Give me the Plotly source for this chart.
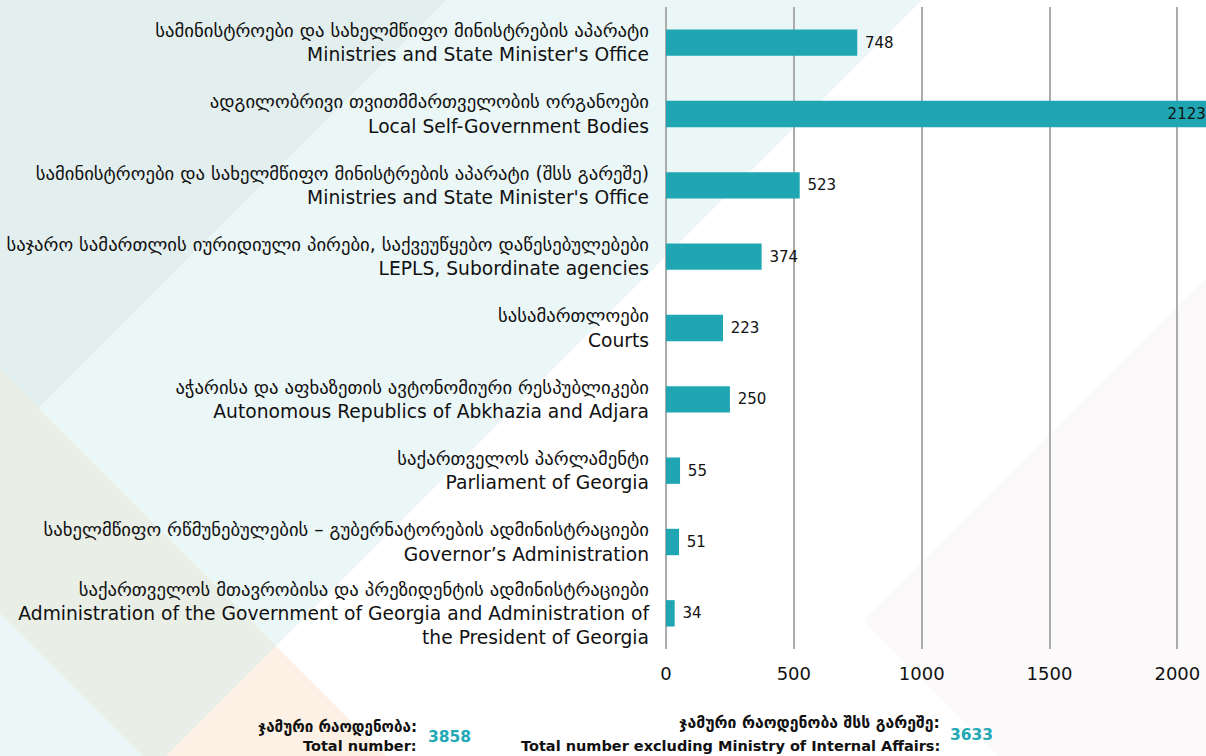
import plotly.graph_objects as go

labels_ka = [
    "სამინისტროები და სახელმწიფო მინისტრების აპარატი",
    "ადგილობრივი თვითმმართველობის ორგანოები",
    "სამინისტროები და სახელმწიფო მინისტრების აპარატი (შსს გარეშე)",
    "საჯარო სამართლის იურიდიული პირები, საქვეუწყებო დაწესებულებები",
    "სასამართლოები",
    "აჭარისა და აფხაზეთის ავტონომიური რესპუბლიკები",
    "საქართველოს პარლამენტი",
    "სახელმწიფო რწმუნებულების – გუბერნატორების ადმინისტრაციები",
    "საქართველოს მთავრობისა და პრეზიდენტის ადმინისტრაციები",
]
labels_en = [
    "Ministries and State Minister's Office",
    "Local Self-Government Bodies",
    "Ministries and State Minister's Office",
    "LEPLS, Subordinate agencies",
    "Courts",
    "Autonomous Republics of Abkhazia and Adjara",
    "Parliament of Georgia",
    "Governor’s Administration",
    "Administration of the Government of Georgia and Administration of<br>the President of Georgia",
]
values = [748, 2123, 523, 374, 223, 250, 55, 51, 34]
x_ticks = [0, 500, 1000, 1500, 2000]

total_ka = "ჯამური რაოდენობა:"
total_en = "Total number:"
total_value = 3858
total_ex_ka = "ჯამური რაოდენობა შსს გარეშე:"
total_ex_en = "Total number excluding Ministry of Internal Affairs:"
total_ex_value = 3633

categories = [f"{k}<br>{e}" for k, e in zip(labels_ka, labels_en)]

W, H = 1206, 756
L, R, T, B = 666, 0, 7, 107
PW, PH = W - L - R, H - T - B
TEAL = "#1fa6b2"
NUM_TEAL = "#22a9b5"
FONT = "DejaVu Sans"
INK = "#111111"


def px(x):
    return (x - L) / PW


def py(y):
    return (H - B - y) / PH


def poly(points, color):
    path = "M " + " L ".join(f"{px(a):.5f},{py(b):.5f}" for a, b in points) + " Z"
    return dict(type="path", xref="paper", yref="paper", path=path,
                fillcolor=color, line=dict(width=0), layer="below")


shapes = [
    poly([(0, 0), (922, 0), (166, 756), (0, 756)], "#ebf6f7"),
    poly([(0, 0), (446, 0), (0, 446)], "#e3eeee"),
    poly([(276, 646), (386, 756), (166, 756)], "#fdf1e5"),
    poly([(0, 370), (276, 646), (166, 756), (143, 756), (0, 613)], "#e9eee7"),
    poly([(863, 621), (1206, 278), (1206, 756), (998, 756)], "#fbf9fa"),
]

textpos = ["inside" if v > 2100 else "outside" for v in values]
texttpl = ["%{x}" if v > 2100 else "\u00a0%{x}" for v in values]

fig = go.Figure(go.Bar(
    x=values, y=categories, orientation="h",
    marker=dict(color=TEAL, line=dict(width=0)),
    width=0.37,
    text=values, textposition=textpos, texttemplate=texttpl,
    insidetextanchor="end",
    textfont=dict(family=FONT, size=15, color=INK),
    insidetextfont=dict(family=FONT, size=15, color=INK),
    outsidetextfont=dict(family=FONT, size=15, color=INK),
    cliponaxis=True,
))


def label(text, x, y, anchor, size, color=INK):
    return dict(xref="paper", yref="paper", x=px(x), y=py(y), xanchor=anchor, yanchor="middle",
                showarrow=False, text=f"<b>{text}</b>",
                font=dict(family=FONT, size=size, color=color))


annotations = [
    label(total_ka, 419, 727, "right", 15.2),
    label(total_en, 419, 746, "right", 14.5),
    label(total_value, 426, 737, "left", 15.5, NUM_TEAL),
    label(total_ex_ka, 942, 722, "right", 15.8),
    label(total_ex_en, 942, 746, "right", 14.5),
    label(total_ex_value, 948, 735, "left", 15.5, NUM_TEAL),
]

fig.update_layout(
    width=W, height=H,
    margin=dict(l=L, r=R, t=T, b=B, pad=0),
    paper_bgcolor="#ffffff", plot_bgcolor="rgba(0,0,0,0)",
    showlegend=False, shapes=shapes, annotations=annotations,
    font=dict(family=FONT, size=18, color=INK),
)
fig.update_xaxes(range=[0, 2112], tickvals=x_ticks, showgrid=True, gridcolor="#ababab",
                 gridwidth=1.5, zeroline=True, zerolinecolor="#ababab", zerolinewidth=1.5,
                 showline=False, ticks="", tickfont=dict(family=FONT, size=18, color=INK),
                 ticklabelstandoff=12, fixedrange=True)
fig.update_yaxes(autorange="reversed", showgrid=False, showline=False, ticks="",
                 tickfont=dict(family=FONT, size=18.7, color=INK),
                 ticklabelstandoff=16, fixedrange=True)

fig.write_html("out.html", config=dict(displayModeBar=False),
               post_script="document.body.style.margin='0';document.body.style.overflow='hidden';")
